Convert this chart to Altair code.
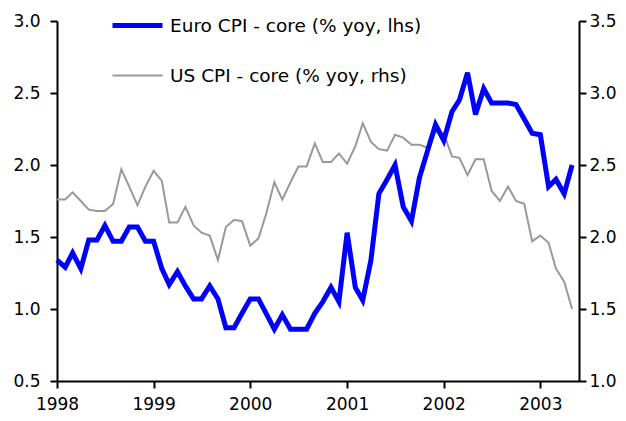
import altair as alt
import pandas as pd

# Monthly data, Jan 1998 - May 2003
euro = [1.34, 1.29, 1.39, 1.28, 1.48, 1.48, 1.58, 1.47, 1.47, 1.57,
        1.57, 1.47, 1.47, 1.28, 1.17, 1.26, 1.16, 1.07, 1.07, 1.16,
        1.07, 0.87, 0.87, 0.97, 1.07, 1.07, 0.97, 0.86, 0.96, 0.86,
        0.86, 0.86, 0.97, 1.05, 1.15, 1.05, 1.53, 1.15, 1.06, 1.34,
        1.80, 1.90, 2.00, 1.71, 1.61, 1.91, 2.10, 2.28, 2.17, 2.37,
        2.45, 2.64, 2.35, 2.53, 2.43, 2.43, 2.43, 2.42, 2.32, 2.22,
        2.21, 1.85, 1.90, 1.80, 2.00]
us = [2.26, 2.26, 2.31, 2.25, 2.19, 2.18, 2.18, 2.23, 2.47, 2.35,
      2.22, 2.35, 2.46, 2.39, 2.10, 2.10, 2.21, 2.08, 2.03, 2.01,
      1.84, 2.07, 2.12, 2.11, 1.94, 1.99, 2.16, 2.38, 2.26, 2.38,
      2.49, 2.49, 2.65, 2.52, 2.52, 2.58, 2.51, 2.63, 2.79, 2.66,
      2.61, 2.60, 2.71, 2.69, 2.64, 2.64, 2.62, 2.73, 2.72, 2.56,
      2.55, 2.43, 2.54, 2.54, 2.32, 2.25, 2.35, 2.25, 2.23, 1.97,
      2.01, 1.96, 1.78, 1.69, 1.50]
series_names = ["Euro CPI - core (% yoy, lhs)", "US CPI - core (% yoy, rhs)"]
series_colors = ["#0000ff", "#999999"]
series_widths = [5, 2]
year_ticks = [1998, 1999, 2000, 2001, 2002, 2003]
left_ticks = [0.5, 1.0, 1.5, 2.0, 2.5, 3.0]
right_ticks = [1.0, 1.5, 2.0, 2.5, 3.0, 3.5]

dates = pd.date_range("1998-01-01", periods=len(euro), freq="MS")
df_euro = pd.DataFrame({"date": dates, "value": euro, "series": series_names[0]})
df_us = pd.DataFrame({"date": dates, "value": us, "series": series_names[1]})

FONT = "DejaVu Sans"

legend = alt.Legend(
    title=None, orient="none", legendX=53, legendY=-5, direction="vertical",
    symbolType="stroke", symbolSize=2500, clipHeight=19, rowPadding=31,
    labelFontSize=18.5, labelFont=FONT, labelColor="#000000", labelLimit=400,
    labelOffset=5, padding=0, symbolOpacity=1,
)

color = alt.Color("series:N", scale=alt.Scale(domain=series_names, range=series_colors), legend=legend)
swidth = alt.StrokeWidth("series:N", scale=alt.Scale(domain=series_names, range=series_widths), legend=legend)

x = alt.X(
    "date:T",
    scale=alt.Scale(domain=[alt.DateTime(year=1998, month=1, date=1),
                            alt.DateTime(year=2003, month=5, date=27)]),
    axis=alt.Axis(values=[alt.DateTime(year=y, month=1, date=1) for y in year_ticks],
                  format="%Y", title=None, labelFlush=False, labelOverlap=False,
                  labelPadding=8),
)

us_line = alt.Chart(df_us).mark_line(strokeJoin="miter").encode(
    x=x,
    y=alt.Y("value:Q", scale=alt.Scale(domain=[1.0, 3.5], nice=False, zero=False),
            axis=alt.Axis(orient="right", values=right_ticks, format=".1f", title=None,
                          labelPadding=3)),
    color=color,
    strokeWidth=swidth,
)

euro_line = alt.Chart(df_euro).mark_line(strokeJoin="miter").encode(
    x=x,
    y=alt.Y("value:Q", scale=alt.Scale(domain=[0.5, 3.0], nice=False, zero=False),
            axis=alt.Axis(orient="left", values=left_ticks, format=".1f", title=None,
                          labelPadding=10)),
    color=color,
    strokeWidth=swidth,
)

chart = (
    alt.layer(us_line, euro_line)
    .resolve_scale(y="independent")
    .properties(
        width=522, height=360,
        autosize=alt.AutoSizeParams(type="none"),
        padding={"left": 49, "top": 13, "right": 39, "bottom": 32},
        background="white",
    )
    .configure_axis(
        grid=False, domainColor="#000000", domainWidth=2, tickColor="#000000",
        tickWidth=2, tickSize=7, labelFontSize=17, labelFont=FONT,
        labelColor="#000000",
    )
    .configure_view(stroke=None)
)

chart.save("out.html", embed_options={"renderer": "svg", "actions": False})
